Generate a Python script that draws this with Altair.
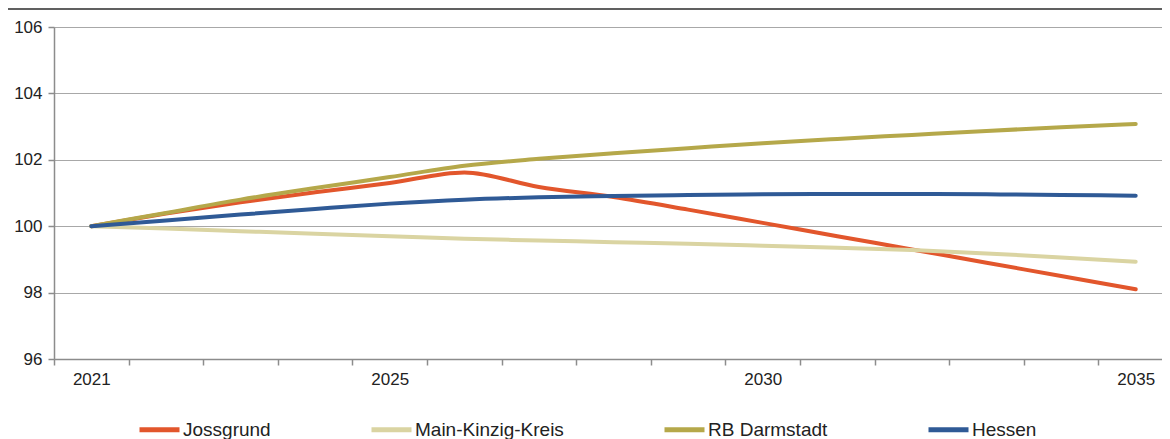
import altair as alt
import pandas as pd

years = [str(y) for y in range(2021, 2036)]
series_names = ["Jossgrund", "Main-Kinzig-Kreis", "RB Darmstadt", "Hessen"]
jossgrund = [100.0, 100.38, 100.72, 101.02, 101.3, 101.62, 101.18, 100.88, 100.5, 100.1, 99.7, 99.3, 98.9, 98.5, 98.1]
main_kinzig = [100.0, 99.93, 99.85, 99.77, 99.7, 99.62, 99.57, 99.52, 99.47, 99.41, 99.35, 99.28, 99.18, 99.06, 98.93]
rb_darmstadt = [100.0, 100.4, 100.8, 101.15, 101.48, 101.82, 102.03, 102.2, 102.35, 102.5, 102.63, 102.75, 102.87, 102.98, 103.08]
hessen = [100.0, 100.17, 100.35, 100.52, 100.68, 100.8, 100.87, 100.91, 100.94, 100.96, 100.97, 100.97, 100.96, 100.94, 100.92]
colors = ["#E2562C", "#DAD4A2", "#B5A84A", "#2F5A96"]
label_years = ["2021", "2025", "2030", "2035"]

rows = []
for name, vals in zip(series_names, [jossgrund, main_kinzig, rb_darmstadt, hessen]):
    for yr, v in zip(years, vals):
        rows.append({"Jahr": yr, "Wert": v, "Serie": name, "order": series_names.index(name)})
df = pd.DataFrame(rows)

W = 1108
H = 332

label_test = " || ".join([f"datum.label == '{y}'" for y in label_years])

lines = alt.Chart(df).mark_line(strokeWidth=4, interpolate="monotone", strokeCap="round").encode(
    x=alt.X("Jahr:O", bandPosition=0.5,
            scale=alt.Scale(type="band", range=[0, 1119], paddingInner=0, paddingOuter=0, domain=years),
            axis=alt.Axis(title=None, labelAngle=0, tickBand="extent", labelExpr=f"({label_test}) ? datum.label : ''",
                          labelFont="Liberation Sans", labelFontSize=17, labelColor="#222222",
                          labelPadding=6, domainColor="#8c8c8c", domainWidth=1.5, tickColor="#8c8c8c",
                          tickWidth=1.5, tickSize=6, grid=False)),
    y=alt.Y("Wert:Q", scale=alt.Scale(domain=[96, 106], nice=False, zero=False),
            axis=alt.Axis(title=None, values=[96, 98, 100, 102, 104, 106], format="d",
                          labelFont="Liberation Sans", labelFontSize=17, labelColor="#222222",
                          labelPadding=6, domainColor="#8c8c8c", domainWidth=1.5, tickColor="#8c8c8c",
                          tickWidth=1.5, tickSize=6, gridColor="#a8a8a8", gridWidth=1.2)),
    color=alt.Color("Serie:N", scale=alt.Scale(domain=series_names, range=colors),
                    legend=alt.Legend(title=None, orient="none", legendX=83, legendY=380, direction="horizontal",
                                      symbolType="stroke", symbolSize=1600, symbolStrokeWidth=5,
                                      labelFont="Liberation Sans", labelFontSize=19, labelColor="#222222",
                                      labelOffset=1, columnPadding=90, padding=0, gridAlign="each")),
    order=alt.Order("order:Q"),
)

top_line = alt.Chart(pd.DataFrame({"a": [0]})).mark_rule(color="#606060", strokeWidth=2).encode(
    x=alt.value(-60), x2=alt.value(W + 20), y=alt.value(-18)
)

chart = alt.layer(top_line, lines).properties(
    width=W, height=H,
    autosize=alt.AutoSizeParams(type="none"),
    padding={"left": 46, "top": 19, "right": 0, "bottom": 80},
).configure_view(stroke=None).configure(background="white")

chart.save("out.html", embed_options={"renderer": "svg", "actions": False})
